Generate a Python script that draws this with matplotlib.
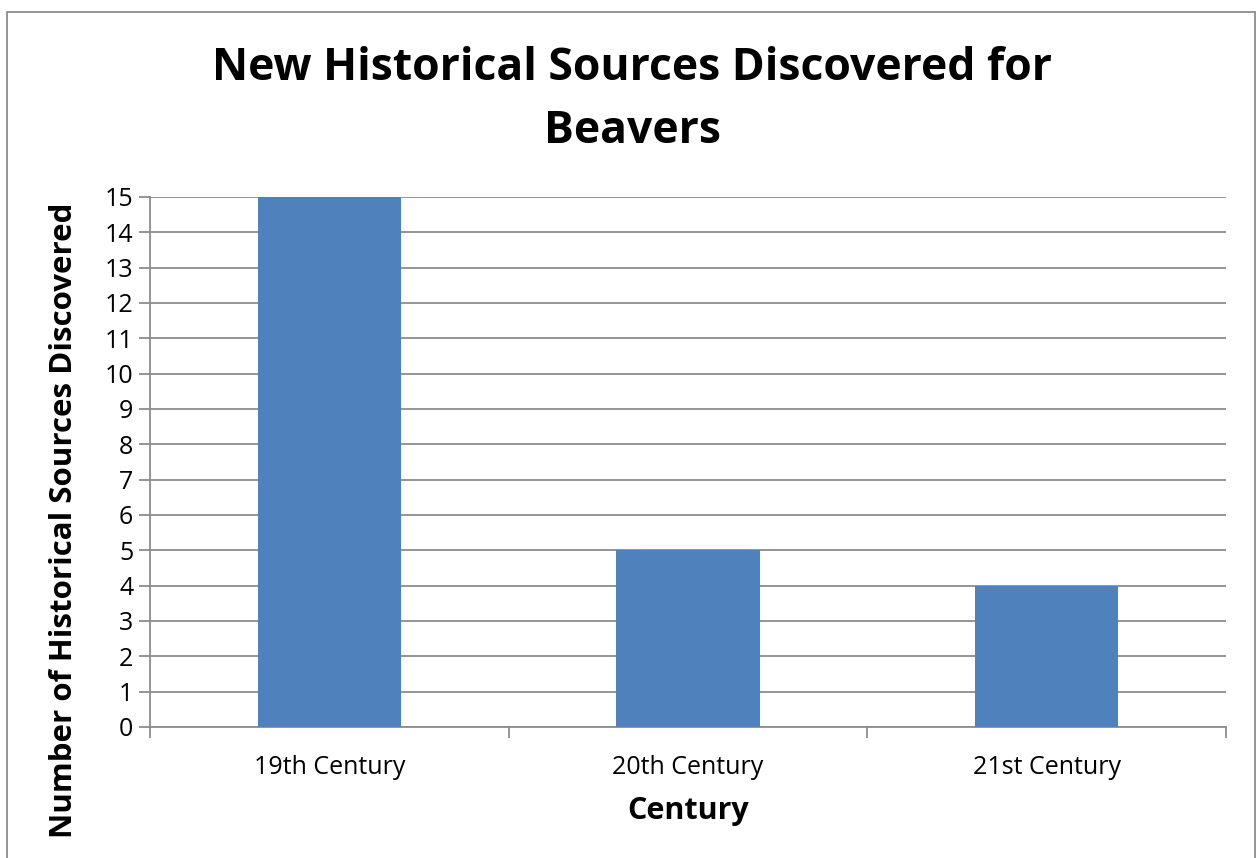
import numpy as np
import matplotlib.pyplot as plt
from matplotlib.patches import Rectangle

plt.rcParams['font.family'] = ['Open Sans', 'DejaVu Sans']

centuries = ['19th Century', '20th Century', '21st Century']
sources = [15, 5, 4]

fig = plt.figure(figsize=(12.59, 8.58), dpi=100)
ax = fig.add_axes([150 / 1259, 1 - 727 / 858, (1226 - 150) / 1259, (727 - 197) / 858])

x = np.arange(len(centuries))
ax.bar(x, sources, width=0.4, color='#4F81BD', zorder=3)

ax.set_xlim(-0.5, 2.5)
ax.set_ylim(0, 15)
ax.set_yticks(range(0, 16))
ax.yaxis.grid(True, color='#8c8c8c', linewidth=1.3)
ax.set_axisbelow(True)

ax.set_xticks(x)
ax.set_xticklabels(centuries, fontsize=18)
ax.set_xticks([-0.5, 0.5, 1.5, 2.5], minor=True)
ax.tick_params(axis='x', which='major', length=0, pad=20)
ax.tick_params(axis='x', which='minor', length=8, width=1.3, color='#8c8c8c')
ax.tick_params(axis='y', length=8, width=1.3, color='#8c8c8c', labelsize=18, pad=4)

for s in ['top', 'right']:
    ax.spines[s].set_visible(False)
for s in ['left', 'bottom']:
    ax.spines[s].set_color('#8c8c8c')
    ax.spines[s].set_linewidth(1.3)

ax.set_xlabel('Century', fontsize=22, fontweight='bold', labelpad=12)
ax.set_ylabel('Number of Historical Sources Discovered', fontsize=22.5,
              fontweight='bold')
ax.yaxis.set_label_coords(-0.066, 0.39)

fig.text(0.502, 1 - 100 / 858, 'New Historical Sources Discovered for\nBeavers',
         ha='center', va='center', fontsize=32, fontweight='bold',
         linespacing=1.55)

fig.add_artist(Rectangle((7 / 1259, -0.01), (1255 - 7) / 1259, 1 - 12 / 858 + 0.01,
                         transform=fig.transFigure, fill=False,
                         edgecolor='#8c8c8c', linewidth=1.3))

fig.savefig('out.png', dpi=100)
